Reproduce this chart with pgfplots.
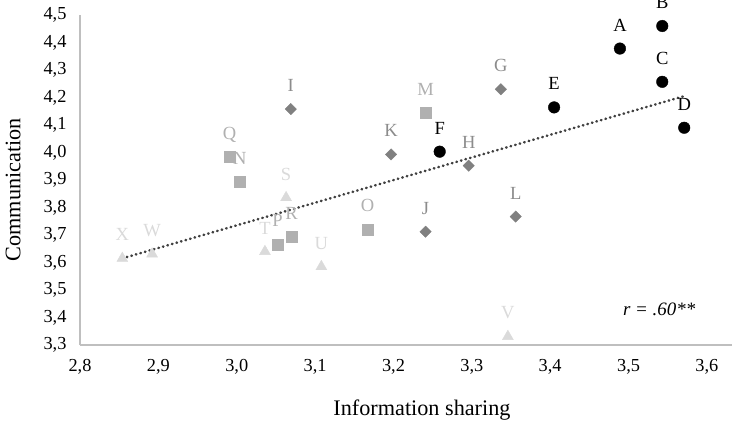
\documentclass[border=0pt]{standalone}
\usepackage{fontspec}
\setmainfont{Liberation Serif}
\usepackage{pgfplots}
\usepackage{pgfplotstable}
\pgfplotsset{compat=1.18}
\definecolor{cA}{HTML}{000000}
\definecolor{cB}{HTML}{808080}
\definecolor{cBl}{HTML}{8C8C8C}
\definecolor{cC}{HTML}{B0B0B0}
\definecolor{cD}{HTML}{DADADA}
\definecolor{axgray}{HTML}{BFBFBF}
\definecolor{trend}{HTML}{404040}

\pgfplotstableread{
x y lab
3.489 4.378 A
3.543 4.460 B
3.543 4.257 C
3.571 4.090 D
3.405 4.164 E
3.259 4.003 F
}\grpA
\pgfplotstableread{
x y lab
3.337 4.230 G
3.296 3.952 H
3.069 4.158 I
3.241 3.712 J
3.197 3.993 K
3.356 3.767 L
}\grpB
\pgfplotstableread{
x y lab
3.241 4.145 M
3.004 3.894 N
3.167 3.721 O
3.052 3.666 P
2.991 3.985 Q
3.070 3.694 R
}\grpC
\pgfplotstableread{
x y lab
3.063 3.836 S
3.036 3.640 T
3.108 3.585 U
3.346 3.331 V
2.892 3.631 W
2.854 3.615 X
}\grpD

\begin{document}
\begin{tikzpicture}
\begin{axis}[
  name=ax,
  scale only axis,
  width=652bp, height=330bp,
  xmin=2.8, xmax=3.632,
  ymin=3.3, ymax=4.5,
  clip=false,
  axis x line=bottom, axis y line=left,
  axis line style={draw=axgray, line width=1.2bp, -},
  major tick length=0pt,
  xtick={2.8,2.9,3.0,3.1,3.2,3.3,3.4,3.5,3.6},
  ytick={3.3,3.4,3.5,3.6,3.7,3.8,3.9,4.0,4.1,4.2,4.3,4.4,4.5},
  /pgf/number format/.cd, fixed, fixed zerofill, precision=1, use comma, assume math mode=true,
  /pgfplots/.cd,
  tick label style={font=\fontsize{18.4}{20}\selectfont, text=black},
  xticklabel style={yshift=-11bp},
  yticklabel style={xshift=-10bp},
  xlabel={Information sharing},
  ylabel={Communication},
  label style={font=\fontsize{22.3}{25}\selectfont},
  xlabel style={at={(axis description cs:0.5245,-0.2142)}, anchor=base},
  ylabel style={at={(axis description cs:-0.0913,0.47)}, anchor=base, rotate=0},
  nodes near coords={\pgfplotspointmeta},
  point meta=explicit symbolic,
  every node near coord/.style={anchor=base, yshift=17.5bp, inner sep=0pt, font=\fontsize{18.6}{20}\selectfont},
]
\addplot[only marks, mark=*, mark size=5.8bp, mark options={fill=cA, draw=cA},
  every node near coord/.append style={text=black}]
  table[x=x, y=y, meta=lab] {\grpA};
\addplot[only marks, mark=square*, mark size=4bp, mark options={fill=cB, draw=cB, rotate=45},
  every node near coord/.append style={text=cBl}]
  table[x=x, y=y, meta=lab] {\grpB};
\addplot[only marks, mark=square*, mark size=5.5bp, mark options={fill=cC, draw=cC},
  every node near coord/.append style={text=cC}]
  table[x=x, y=y, meta=lab] {\grpC};
\addplot[only marks, mark=triangle*, mark size=6.3bp, mark options={fill=cD, draw=cD},
  every node near coord/.append style={text=cD}]
  table[x=x, y=y, meta=lab] {\grpD};
\addplot[trend, line width=2.6bp, line cap=round, dash pattern=on 0.5bp off 4.2bp, nodes near coords={}, no marks]
  coordinates {(2.854,3.615) (3.571,4.205)};
\node[anchor=base, font=\fontsize{19}{21}\selectfont\itshape] at (axis cs:3.539,3.409) {r = .60**};
\end{axis}
\pgfresetboundingbox
\path[use as bounding box] ([shift={(-80bp,-78bp)}]ax.south west) rectangle ([shift={(0bp,15bp)}]ax.north east);
\end{tikzpicture}
\end{document}
